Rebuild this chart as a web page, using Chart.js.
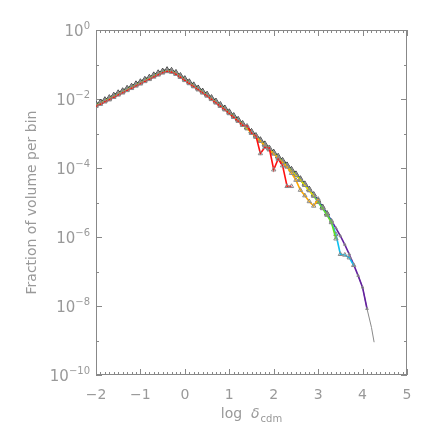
<!DOCTYPE html>
<html>
<head>
<meta charset="utf-8">
<script src="https://cdn.jsdelivr.net/npm/chart.js@4.4.1/dist/chart.umd.min.js"></script>
<style>
  html, body { margin: 0; padding: 0; background: #fff; }
</style>
</head>
<body>
<canvas id="chart" width="436" height="436"></canvas>
<script>
// bin centres in log delta_cdm
const binX = [-2.0, -1.9, -1.8, -1.7, -1.6, -1.5, -1.4, -1.3, -1.2, -1.1,
              -1.0, -0.9, -0.8, -0.7, -0.6, -0.5, -0.4, -0.3, -0.2, -0.1,
               0.0,  0.1,  0.2,  0.3,  0.4,  0.5,  0.6,  0.7,  0.8,  0.9,
               1.0,  1.1,  1.2,  1.3,  1.4,  1.5,  1.6,  1.7,  1.8,  1.9,
               2.0,  2.1,  2.2,  2.3,  2.4,  2.5,  2.6,  2.7,  2.8,  2.9,
               3.0,  3.1,  3.2,  3.3,  3.4,  3.5,  3.6,  3.7,  3.8,  3.9,
               4.0,  4.1];

const xTickValues = [-2, -1, 0, 1, 2, 3, 4, 5];
const xTickLabels = ['\u22122', '\u22121', '0', '1', '2', '3', '4', '5'];
const yTickExponents = [0, -1, -2, -3, -4, -5, -6, -7, -8, -9, -10];
// labelled decades: "10" with these exponents ('' = unlabelled tick)
const yTickLabels = ['0', '', '\u22122', '', '\u22124', '', '\u22126', '', '\u22128', '', '\u221210'];

// log10 of fraction of volume per bin, one array per run (first bin index given)
const blackStart = 0;
const blackLog = [-2.15, -2.09, -2.02, -1.96, -1.89, -1.82, -1.76, -1.69, -1.63, -1.56,
                  -1.50, -1.43, -1.37, -1.30, -1.24, -1.19, -1.15, -1.17, -1.23, -1.32,
                  -1.41, -1.50, -1.59, -1.68, -1.77, -1.86, -1.96, -2.06, -2.16, -2.26,
                  -2.37, -2.48, -2.59, -2.71, -2.82, -2.94, -3.06, -3.18, -3.30, -3.42,
                  -3.54, -3.66, -3.78, -3.91, -4.04, -4.17, -4.31, -4.46, -4.61, -4.77,
                  -4.95, -5.13, -5.32];
const greenStart = 0;
const greenLog = [-2.17, -2.11, -2.04, -1.98, -1.91, -1.84, -1.78, -1.71, -1.65, -1.58,
                  -1.52, -1.45, -1.39, -1.32, -1.26, -1.21, -1.17, -1.19, -1.25, -1.34,
                  -1.43, -1.52, -1.61, -1.70, -1.79, -1.88, -1.98, -2.08, -2.18, -2.28,
                  -2.39, -2.50, -2.61, -2.73, -2.84, -2.96, -3.08, -3.20, -3.32, -3.44,
                  -3.56, -3.68, -3.80, -3.93, -4.06, -4.19, -4.33, -4.48];
const yellowStart = 0;
const yellowLog = [-2.19, -2.13, -2.06, -2.00, -1.93, -1.86, -1.80, -1.73, -1.67, -1.60,
                   -1.54, -1.47, -1.41, -1.34, -1.28, -1.23, -1.19, -1.21, -1.27, -1.36,
                   -1.45, -1.54, -1.63, -1.72, -1.81, -1.90, -2.00, -2.10, -2.20, -2.30,
                   -2.41, -2.52, -2.63, -2.75, -2.86, -2.98, -3.10, -3.22, -3.34, -3.46,
                   -3.58, -3.70, -3.82, -3.95, -4.08, -4.21, -4.35, -4.50, -4.65, -4.81];
const redStart = 0;
const redLog = [-2.21, -2.15, -2.08, -2.02, -1.95, -1.88, -1.82, -1.75, -1.69, -1.62,
                -1.56, -1.49, -1.43, -1.36, -1.30, -1.24, -1.20, -1.22, -1.28, -1.37,
                -1.46, -1.55, -1.64, -1.73, -1.82, -1.91, -2.01, -2.11, -2.21, -2.31,
                -2.42, -2.53, -2.64, -2.76, -2.78, -2.99, -3.07, -3.58, -3.40, -3.42,
                -4.05, -3.74, -3.93, -4.53, -4.53];
const orangeStart = 35;
const orangeLog = [-2.98, -3.10, -3.22, -3.35, -3.47, -3.59, -3.71, -3.84, -3.97, -4.15,
                   -4.35, -4.64, -4.80, -4.97, -5.10, -4.90];
const blueStart = 43;
const blueLog = [-3.93, -4.06, -4.19, -4.33, -4.47, -4.62, -4.78, -4.96, -5.14, -5.33, -5.53];
const limeStart = 46;
const limeLog = [-4.35, -4.50, -4.65, -4.81, -4.99, -5.17, -5.36, -5.58, -6.05];
const cyanStart = 50;
const cyanLog = [-4.99, -5.17, -5.36, -5.57, -5.92, -6.50, -6.52, -6.60, -6.82];
const purpleStart = 52;
const purpleLog = [-5.34, -5.53, -5.74, -5.97, -6.22, -6.50, -6.80, -7.12, -7.46, -8.08];
const greyX = [3.9, 4.0, 4.1, 4.2, 4.26];
const greyLog = [-7.12, -7.46, -8.08, -8.62, -9.05];

const axisColor = '#888888';
const textColor = '#999999';
const fontFamily = 'DejaVu Sans';

function toPoints(start, logs) {
    return logs.map((v, i) => ({ x: binX[start + i], y: Math.pow(10, v) }));
}

function run(label, points, color, order, opts) {
    return Object.assign({
        label: label,
        data: points,
        showLine: true,
        borderColor: color,
        borderWidth: 1.6,
        pointStyle: 'triangle',
        pointRadius: 2.5,
        pointBorderWidth: 1,
        pointBorderColor: '#8a8a8a',
        pointBackgroundColor: 'rgba(0,0,0,0)',
        order: order
    }, opts || {});
}

// frame, inward ticks, y labels with exponents and the x title (subscript)
const idlAxes = {
    id: 'idlAxes',
    beforeDatasetsDraw(chart) {
        const { ctx, chartArea: a, scales: { x, y } } = chart;
        ctx.save();
        ctx.strokeStyle = axisColor;
        ctx.lineWidth = 1;
        ctx.strokeRect(a.left + 0.5, a.top + 0.5, a.right - a.left - 1, a.bottom - a.top - 1);
        ctx.beginPath();
        for (let i = -20; i <= 50; i++) {
            const px = Math.round(x.getPixelForValue(i / 10)) + 0.5;
            const len = i % 10 === 0 ? 6 : 3;
            ctx.moveTo(px, a.bottom); ctx.lineTo(px, a.bottom - len);
            ctx.moveTo(px, a.top); ctx.lineTo(px, a.top + len);
        }
        yTickExponents.forEach(e => {
            const py = Math.round(y.getPixelForValue(Math.pow(10, e))) + 0.5;
            const len = e % 2 === 0 ? 6 : 3;
            ctx.moveTo(a.left, py); ctx.lineTo(a.left + len, py);
            ctx.moveTo(a.right, py); ctx.lineTo(a.right - len, py);
        });
        ctx.stroke();

        const big = '15px "' + fontFamily + '"';
        const sup = '10px "' + fontFamily + '"';
        ctx.fillStyle = textColor;
        ctx.textBaseline = 'alphabetic';
        ctx.textAlign = 'left';
        yTickExponents.forEach((e, i) => {
            if (!yTickLabels[i]) return;
            const py = y.getPixelForValue(Math.pow(10, e));
            ctx.font = sup; const ws = ctx.measureText(yTickLabels[i]).width;
            ctx.font = big; const wb = ctx.measureText('10').width;
            const right = a.left - 6;
            ctx.fillText('10', right - ws - wb, py + 6);
            ctx.font = sup;
            ctx.fillText(yTickLabels[i], right - ws, py - 1);
        });

        // x title: log δ_cdm
        const mid = '14px "' + fontFamily + '"';
        const delta = 'italic 14px "' + fontFamily + '"';
        ctx.font = mid; const w1 = ctx.measureText('log  ').width;
        ctx.font = delta; const w2 = ctx.measureText('\u03b4').width;
        ctx.font = sup; const w3 = ctx.measureText('cdm').width;
        let tx = (a.left + a.right) / 2 - (w1 + w2 + w3 + 1) / 2;
        ctx.font = mid; ctx.fillText('log  ', tx, 418); tx += w1;
        ctx.font = delta; ctx.fillText('\u03b4', tx, 418); tx += w2 + 1;
        ctx.font = sup; ctx.fillText('cdm', tx, 422);
        ctx.restore();
    }
};

new Chart(document.getElementById('chart'), {
    type: 'scatter',
    data: {
        datasets: [
            run('red', toPoints(redStart, redLog), '#ff1010', 1),
            run('orange', toPoints(orangeStart, orangeLog), '#ffaa00', 2),
            run('yellow', toPoints(yellowStart, yellowLog), '#e8d800', 3),
            run('green', toPoints(greenStart, greenLog), '#1c9a1c', 4),
            run('lime', toPoints(limeStart, limeLog), '#66dd22', 5),
            run('blue', toPoints(blueStart, blueLog), '#1a5fc0', 6),
            run('cyan', toPoints(cyanStart, cyanLog), '#10c0f0', 7),
            run('purple', toPoints(purpleStart, purpleLog), '#6420a0', 8, { pointRadius: 1.5 }),
            run('black', toPoints(blackStart, blackLog), '#000000', 9,
                { pointRadius: 3, pointBorderColor: '#444444' }),
            run('grey', greyX.map((v, i) => ({ x: v, y: Math.pow(10, greyLog[i]) })), '#8a8a8a', 10,
                { borderWidth: 1, pointRadius: 0 })
        ]
    },
    options: {
        responsive: false,
        animation: false,
        layout: { padding: { top: 30, right: 29, bottom: 0, left: 0 } },
        plugins: { legend: { display: false }, tooltip: { enabled: false } },
        scales: {
            x: {
                type: 'linear',
                min: -2,
                max: 5,
                afterBuildTicks: s => { s.ticks = xTickValues.map(v => ({ value: v })); },
                afterFit: s => { s.height = 61; },
                grid: { display: false, drawTicks: false },
                border: { display: false },
                ticks: {
                    callback: (v, i) => xTickLabels[i],
                    color: textColor,
                    font: { family: fontFamily, size: 14 },
                    padding: 12,
                    maxRotation: 0,
                    autoSkip: false
                }
            },
            y: {
                type: 'logarithmic',
                min: 1e-10,
                max: 1,
                afterBuildTicks: s => { s.ticks = yTickExponents.map(e => ({ value: Math.pow(10, e) })); },
                afterFit: s => { s.width = 96; },
                grid: { display: false, drawTicks: false },
                border: { display: false },
                ticks: { display: false },
                title: {
                    display: true,
                    text: 'Fraction of volume per bin',
                    color: textColor,
                    font: { family: fontFamily, size: 14 },
                    padding: { top: 24, bottom: 0 }
                }
            }
        }
    },
    plugins: [idlAxes]
});
</script>
</body>
</html>
